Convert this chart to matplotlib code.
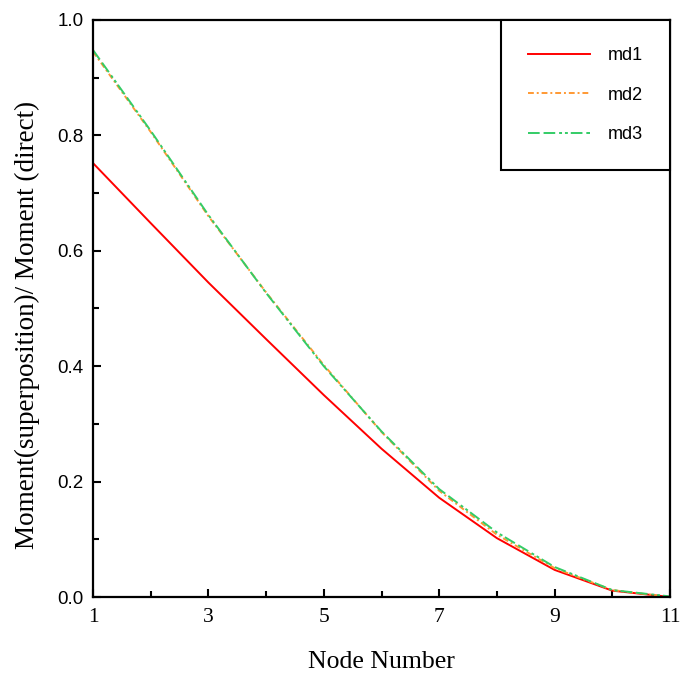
import matplotlib
matplotlib.use("Agg")
import matplotlib.pyplot as plt
from matplotlib.ticker import MultipleLocator

nodes = [1, 2, 3, 4, 5, 6, 7, 8, 9, 10, 11]
md1 = [0.752, 0.648, 0.545, 0.447, 0.350, 0.257, 0.172, 0.102, 0.047, 0.011, 0.0]
md2 = [0.945, 0.806, 0.660, 0.528, 0.402, 0.286, 0.184, 0.108, 0.050, 0.012, 0.0]
md3 = [0.948, 0.808, 0.662, 0.527, 0.400, 0.287, 0.187, 0.112, 0.052, 0.012, 0.001]
series_names = ["md1", "md2", "md3"]
xticks = [1, 3, 5, 7, 9, 11]
yticks = [0.0, 0.2, 0.4, 0.6, 0.8, 1.0]

fig = plt.figure(figsize=(6.81, 6.77), dpi=100)
ax = fig.add_axes([93/681, 1-597/677, (670-93)/681, (597-20)/677])

ax.plot(nodes, md1, color="#ff0000", lw=1.4, ls="-", label=series_names[0])
ax.plot(nodes, md2, color="#ff9933", lw=1.4, ls=(0, (3, 1.5, 1, 1.5)), label=series_names[1])
ax.plot(nodes, md3, color="#33cc66", lw=1.4, ls=(0, (6, 2, 6, 2, 1.5, 1.5, 1.5, 1.5)), label=series_names[2])

ax.set_xlim(1, 11)
ax.set_ylim(0, 1.0)
ax.set_xticks(xticks)
ax.set_yticks(yticks)
ax.xaxis.set_minor_locator(MultipleLocator(1))
ax.yaxis.set_minor_locator(MultipleLocator(0.1))
ax.set_yticklabels([f"{v:.1f}" for v in yticks], family="Liberation Sans", fontsize=13.5)
ax.set_xticklabels([str(v) for v in xticks], family="Liberation Serif", fontsize=15.5)
ax.tick_params(which="major", direction="in", length=6, width=1.5, top=False, right=False)
ax.tick_params(which="minor", direction="in", length=4, width=1.5, top=False, right=False)
ax.tick_params(axis="x", which="major", pad=8)
ax.tick_params(axis="y", which="major", pad=7)
for s in ax.spines.values():
    s.set_linewidth(1.6)

ax.set_xlabel("Node Number", family="Liberation Serif", fontsize=18.5, labelpad=17)
ax.set_ylabel("Moment(superposition)/ Moment (direct)", family="Liberation Serif", fontsize=19.5, labelpad=12)
ax.yaxis.label.set_y(0.472)

leg = ax.legend(loc="upper right", bbox_to_anchor=(1.0, 1.0), borderaxespad=0,
                fancybox=False, edgecolor="black", framealpha=1,
                prop={"family": "Liberation Sans", "size": 13},
                handlelength=3.4, handletextpad=1.0, labelspacing=1.25, borderpad=1.5)
leg.get_frame().set_linewidth(1.5)

fig.savefig("out.png", dpi=100)
